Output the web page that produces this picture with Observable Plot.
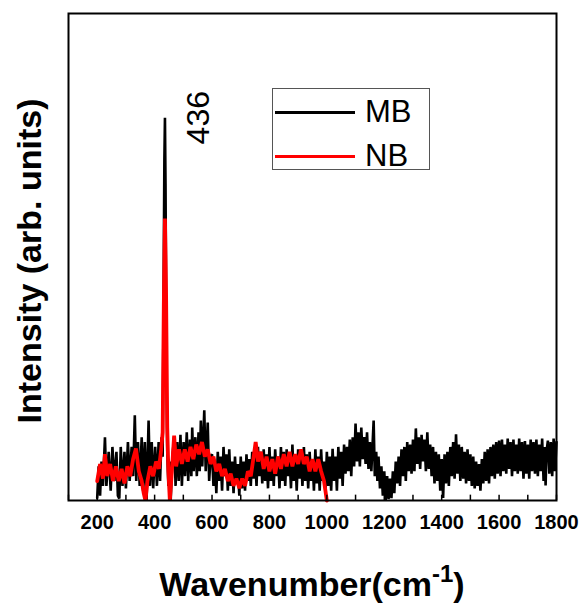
<!DOCTYPE html>
<html><head><meta charset="utf-8">
<script src="https://cdn.jsdelivr.net/npm/d3@7"></script>
<script src="https://cdn.jsdelivr.net/npm/@observablehq/plot@0.6"></script>
<style>
body{margin:0;background:#fff;font-family:"Liberation Sans",Arial,sans-serif;}
#wrap{position:relative;width:584px;height:607px;}
.legend{position:absolute;left:272px;top:88px;width:158px;height:82px;box-sizing:border-box;border:1.5px solid #555;background:#fff;padding-top:1px;}
.row{display:flex;align-items:center;height:44px;}
.swatch{width:80px;height:3px;margin-left:2px;}
.lab{margin-left:10px;font-size:31px;line-height:44px;color:#000;}
</style></head><body><div id="wrap"></div>
<script>
// Series names and colours
const seriesNames = ["MB", "NB"];
const seriesColors = ["#000000", "#ff0000"];

// MB spectrum: [wavenumber (cm-1), intensity (arb.)]
const mbPoints = [
[200,0.5],[205,7],[210,1],[215,8],[220,3],[227,13],[232,3],[240,10],[247,2],[253,11],[260,4],[267,10],[272,1],[277,0.4],[282,11],[288,3],[295,10],[300,2.5],[307,12],[313,4],[320,11],[325,5],[331,17.5],[336,4],[342,12],[348,3],[355,13],[360,2],[366,12],[372,0],[379,16.4],[384,3],[390,12],[395,2.5],[402,11],[408,3],[414,12],[419,4],[424,13],[428,9],[431,40],[434,70],[436,78.6],[438,65],[441,30],[444,10],[448,3],[452,8],[456,0],[462,9],[468,13],[473,3],[479,12],[484,4],[490,13.5],[495,3],[501,12],[506,5],[512,14],[517,4],[523,12.5],[528,5],[531,15],[536,6],[542,13],[547,5],[553,14],[557,6],[561,16.4],[566,7],[573,18.5],[578,6],[585,16],[590,4],[595,9],
[600,9.5],[605,3],[610,8],[615,1.5],[620,10],[625,4],[630,9],[635,2],[640,11],[645,5],[650,9.5],[655,2],[660,10.5],[665,3],[670,8],[675,1.5],[680,9],[685,3.5],[690,7.5],[695,1],[700,9],[705,2.5],[710,8],[715,2],[720,9.5],[725,4],[730,8.5],[735,3],[740,10],[745,4.5],[750,9],[755,3],[760,11],[765,5],[770,10],[775,3.5],[780,10.5],[785,4],[790,9.5],[795,2.5],
[800,11],[805,4],[810,9],[815,3],[820,10.5],[825,5],[830,9],[835,2.5],[840,11],[845,4],[850,10],[855,3],[860,10.5],[865,5],[870,9],[875,2.5],[880,11.5],[885,4],[890,9.5],[895,2],[900,10.5],[905,4.5],[910,9],[915,3],[920,11],[925,4],[930,9.5],[935,2.5],[940,10],[945,4],[950,8.5],[955,2],[960,10.5],[965,3.5],[970,9],[975,2],[980,10.5],[985,4],[990,8],[995,1.5],
[1000,10],[1005,3],[1010,9],[1015,2],[1020,10.6],[1025,4],[1030,9],[1035,2],[1040,11],[1045,4.5],[1050,10],[1055,3],[1060,11.5],[1065,5.5],[1070,11],[1075,6],[1080,12.5],[1085,5],[1090,13],[1095,7],[1100,15.8],[1105,8],[1110,14],[1115,7],[1120,15],[1125,8.5],[1130,13],[1135,7.5],[1140,14],[1145,6.5],[1150,12],[1155,6],[1163,16.4],[1167,5],[1172,10],[1176,4],[1180,9],[1185,2.5],[1190,7],[1195,1],
[1200,6],[1205,0],[1210,5],[1215,0.3],[1220,4.5],[1225,0.5],[1230,6],[1235,1.5],[1240,8],[1245,3.5],[1250,9],[1255,3],[1260,10.5],[1265,5],[1270,11],[1275,4],[1280,12],[1285,6],[1290,11.5],[1295,5.5],[1300,12.5],[1305,6],[1310,14.8],[1315,7.5],[1320,13],[1325,6.5],[1330,13.5],[1335,8],[1340,12.5],[1345,6],[1350,14],[1355,6.5],[1360,11.5],[1365,5],[1370,11],[1375,3.5],[1380,10],[1385,4],[1390,9.5],[1395,2],
[1400,8.5],[1405,0.5],[1410,9.5],[1415,3.5],[1420,10],[1425,3],[1430,11],[1435,5],[1440,12],[1445,4.5],[1450,13.6],[1455,5.5],[1460,11.5],[1465,4],[1470,11],[1475,4.5],[1480,10],[1485,3.5],[1490,10.5],[1495,4],[1500,9.5],[1505,3],[1510,9],[1515,2.5],[1520,8],[1525,3],[1530,7.5],[1535,2],[1540,8.5],[1545,3.5],[1550,10],[1555,4],[1560,10.5],[1565,3.5],[1570,11],[1575,5],[1580,11.5],[1585,4.5],[1590,12],[1595,5.5],
[1600,12.3],[1605,5],[1610,12.5],[1615,6],[1620,11.5],[1625,5.5],[1630,12.7],[1635,6.5],[1640,12],[1645,5],[1650,12.5],[1655,6],[1660,11.5],[1665,5.5],[1670,12.7],[1675,6],[1680,12],[1685,4.5],[1690,12.2],[1695,5.5],[1700,11.5],[1705,4.5],[1710,12.5],[1715,6],[1720,12],[1725,5.5],[1730,12.5],[1735,5],[1740,11.5],[1745,6],[1750,12.7],[1755,4],[1760,11],[1762,3.1],[1765,10],[1770,12.3],[1775,5.5],[1780,12],[1785,5],[1790,12.7],[1795,6],[1800,12]
];

// NB spectrum: [wavenumber (cm-1), intensity (arb.)]
const nbPoints = [
[200,4],[210,7.5],[220,4.5],[227,9.5],[235,5],[245,7.5],[255,4],[265,7],[275,4],[285,6.5],[295,3.5],[305,7],[315,5],[325,8.5],[335,10.7],[345,6],[355,4],[362,1.5],[368,0],[375,4],[385,7],[395,5],[405,8],[415,6.5],[422,10],[428,14],[432,40],[436,57.9],[440,42],[444,15],[448,6],[453,0],[460,6],[468,13.3],[475,7],[485,10.5],[495,7.5],[505,10.5],[515,8],[525,11],[535,8.5],[545,11.5],[555,9.5],[565,12],[575,9],[585,10.5],[595,7.5],[605,9],[615,6],[625,7.5],[635,5],[645,6.5],[655,4],[665,5.5],[675,3],[685,4.5],[695,2.5],[705,4.5],[715,3],[725,6],[735,5],[745,9],[752,12],[760,8],[770,10],[780,6.5],[790,9],[800,6],[810,8.5],[820,5.5],[830,9],[840,6.5],[850,9.5],[860,7],[870,10],[880,7],[890,9.5],[900,7.5],[910,10.5],[920,7.5],[930,9],[940,6],[950,8.5],[960,6],[970,8.5],[980,6],[990,4],[1000,0]
];

// Axis ticks and labels
const xTickLabels = [200, 400, 600, 800, 1000, 1200, 1400, 1600, 1800];
const xMinorTicks = [100, 200, 300, 400, 500, 600, 700, 800, 900, 1000, 1100, 1200, 1300, 1400, 1500, 1600, 1700, 1800];
const peakLabels = [{x: 436, y: 78.6, text: "436"}];
const yTitle = "Intensity (arb. units)";
const xTitle = "Wavenumber(cm";
const xTitleSup = "-1";

const plot = Plot.plot({
  width: 584, height: 607,
  marginLeft: 68, marginRight: 28, marginTop: 13, marginBottom: 107,
  style: {fontFamily: "Liberation Sans, Arial, sans-serif", background: "white", color: "black", overflow: "visible"},
  x: {domain: [100, 1800]},
  y: {domain: [0, 100], axis: null},
  marks: [
    Plot.line(mbPoints, {x: d => d[0], y: d => d[1], stroke: seriesColors[0], strokeWidth: 2.6, strokeLinejoin: "miter", strokeMiterlimit: 2}),
    Plot.line(nbPoints, {x: d => d[0], y: d => d[1], stroke: seriesColors[1], strokeWidth: 3.8, strokeLinejoin: "miter", strokeMiterlimit: 2}),
    Plot.ruleX(xMinorTicks, {y1: 0, y2: 1.1, stroke: "black", strokeWidth: 1.5}),
    Plot.axisX(xTickLabels, {tickSize: 0, tickPadding: 14, fontSize: 20, fontWeight: "bold", label: null, tickFormat: d => String(d)}),
    Plot.frame({stroke: "black", strokeWidth: 2}),
    Plot.text(peakLabels, {x: "x", y: "y", text: "text", rotate: -90, fontSize: 32, dx: 34, fill: "black"}),
    Plot.text([yTitle], {frameAnchor: "left", textAnchor: "middle", text: d => d, rotate: -90, dx: -38, dy: 4, fontSize: 34, fontWeight: "bold", fill: "black"})
  ]
});

const svg = d3.select(plot);
const xs = plot.scale("x");
const t = svg.append("text")
  .attr("x", xs.apply(950))
  .attr("y", 596)
  .attr("text-anchor", "middle")
  .attr("font-size", 34)
  .attr("font-weight", "bold")
  .attr("fill", "black");
t.append("tspan").text(xTitle);
t.append("tspan").attr("dy", -14).attr("font-size", 24).text(xTitleSup);
t.append("tspan").attr("dy", 14).text(")");

const wrap = document.getElementById("wrap");
wrap.appendChild(plot);

const legend = document.createElement("div");
legend.className = "legend";
seriesNames.forEach((name, i) => {
  const row = document.createElement("div");
  row.className = "row";
  const sw = document.createElement("span");
  sw.className = "swatch";
  sw.style.background = seriesColors[i];
  const lab = document.createElement("span");
  lab.className = "lab";
  lab.textContent = name;
  row.appendChild(sw); row.appendChild(lab);
  legend.appendChild(row);
});
wrap.appendChild(legend);
</script></body></html>
